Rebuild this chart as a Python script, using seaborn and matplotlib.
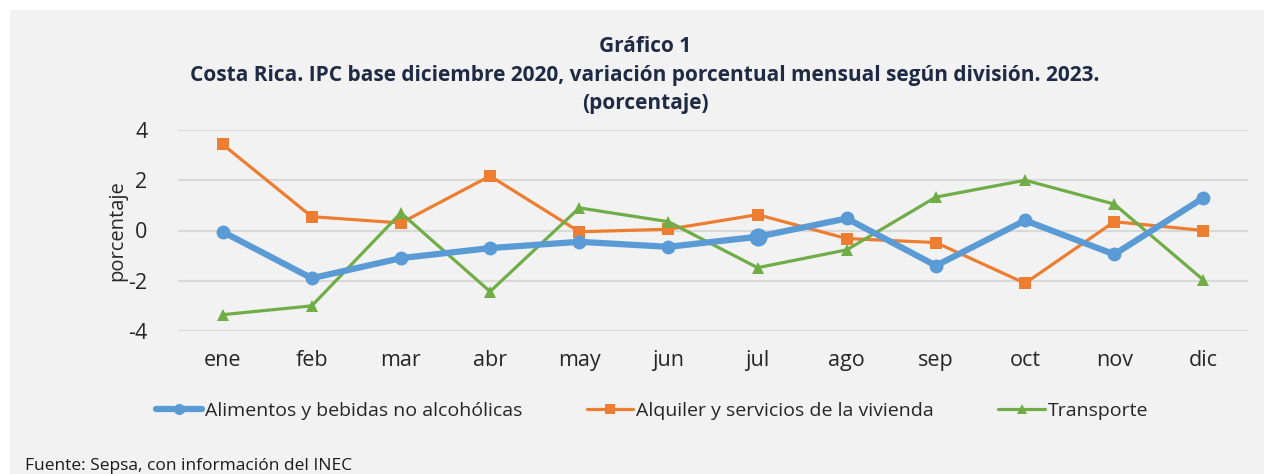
import pandas as pd
import matplotlib.pyplot as plt
import seaborn as sns

# Datos (variacion porcentual mensual, 2023)
meses = ['ene', 'feb', 'mar', 'abr', 'may', 'jun', 'jul', 'ago', 'sep', 'oct', 'nov', 'dic']
alimentos = [-0.05, -1.9, -1.1, -0.7, -0.45, -0.65, -0.25, 0.48, -1.4, 0.4, -0.95, 1.3]
alquiler = [3.43, 0.55, 0.3, 2.17, -0.05, 0.05, 0.63, -0.32, -0.48, -2.1, 0.35, 0.0]
transporte = [-3.35, -3.0, 0.7, -2.43, 0.9, 0.35, -1.48, -0.77, 1.33, 2.0, 1.05, -1.97]
series = ['Alimentos y bebidas no alcohólicas', 'Alquiler y servicios de la vivienda', 'Transporte']

df = pd.DataFrame({'mes': meses * 3,
                   'valor': alimentos + alquiler + transporte,
                   'division': [s for s in series for _ in meses]})
df['x'] = df.groupby('division').cumcount()

colores = {series[0]: '#5b9bd5', series[1]: '#ed7d31', series[2]: '#70ad47'}
marcadores = {series[0]: 'o', series[1]: 's', series[2]: '^'}

sns.set_theme(style='white')
plt.rcParams['font.family'] = ['Open Sans', 'DejaVu Sans']

fig = plt.figure(figsize=(12.64, 4.74), dpi=100)
fig.patch.set_facecolor('white')
# fondo gris del area del grafico
fig.patches.append(plt.Rectangle((10 / 1264, 0), 1, 1 - 10 / 474, transform=fig.transFigure,
                                 facecolor='#f2f2f2', edgecolor='none', zorder=-10))

ax = fig.add_axes([178 / 1264, 1 - 331 / 474, (1248 - 178) / 1264, (331 - 130) / 474])
ax.set_facecolor('#f2f2f2')

for s in series:
    d = df[df['division'] == s]
    lw = 4.5 if s == series[0] else 2.3
    ms = 10 if s == series[0] else 9
    sns.lineplot(data=d, x='x', y='valor', ax=ax, color=colores[s], linewidth=lw,
                 marker=marcadores[s], markersize=ms, markeredgewidth=0, label=s,
                 zorder=3 if s == series[0] else 2)

# punto destacado de julio
jul = df[(df['division'] == series[0]) & (df['mes'] == 'jul')]
sns.scatterplot(data=jul, x='x', y='valor', ax=ax, color=colores[series[0]], s=170,
                linewidth=0, zorder=4, legend=False)

ax.set_xlim(-0.5, 11.5)
ax.set_ylim(-4, 4)
ax.set_yticks([-4, -2, 0, 2, 4])
ax.set_yticklabels(['-4', '-2', '0', '2', '4'], fontsize=15.5)
ax.set_xticks(range(12))
ax.set_xticklabels(meses, fontsize=15.5)
ax.tick_params(axis='x', pad=14, length=0)
ax.tick_params(axis='y', pad=22, length=0)
ax.grid(axis='y', color='#d9d9d9', linewidth=1.5)
ax.set_axisbelow(True)
for sp in ax.spines.values():
    sp.set_visible(False)
ax.set_xlabel('')
ax.set_ylabel('porcentaje', fontsize=14.5)
ax.yaxis.set_label_coords((127 - 178) / (1248 - 178), 0.5)

h, l = ax.get_legend_handles_labels()
ax.get_legend().remove()
fig.legend(h, l, loc='center', bbox_to_anchor=(652 / 1264, 1 - 411 / 474), ncol=3,
           frameon=False, fontsize=14, columnspacing=3.3, handlelength=2.4, handletextpad=0.15,
           markerscale=0.8)

titulo = ('Gráfico 1\nCosta Rica. IPC base diciembre 2020, variación porcentual mensual según división. 2023.\n'
          '(porcentaje)')
fig.text(645 / 1264, 1 - 75 / 474, titulo, ha='center', va='center', fontsize=15,
         fontweight='bold', color='#1f2a44', linespacing=1.5)
fig.text(25 / 1264, 1 - 466 / 474, 'Fuente: Sepsa, con información del INEC', ha='left',
         va='center', fontsize=12.5, color='#1a1a1a')

fig.savefig('out.png', dpi=100, facecolor=fig.get_facecolor())
